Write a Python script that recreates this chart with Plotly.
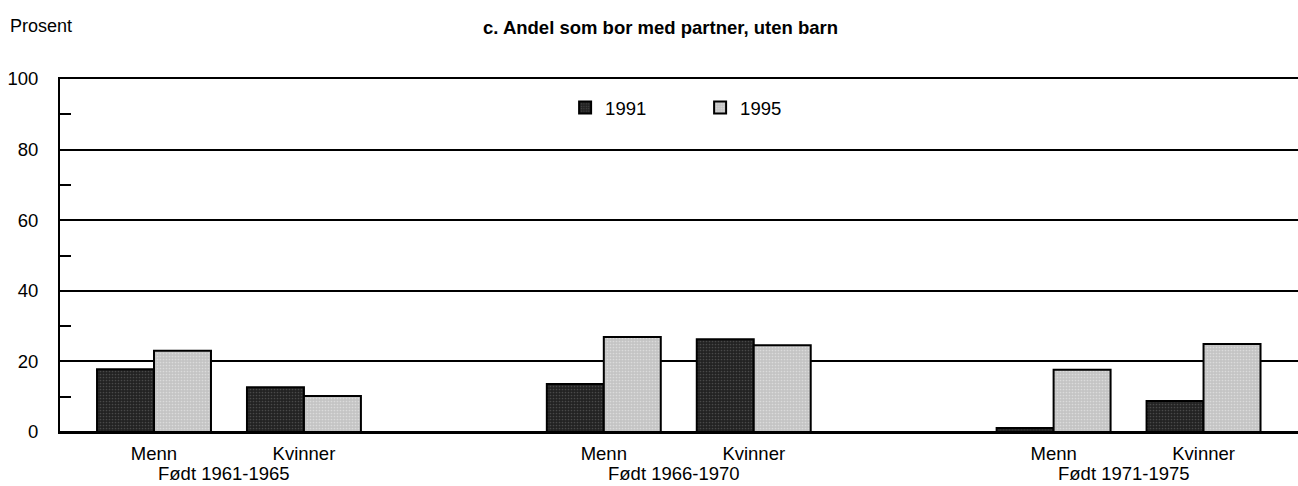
import plotly.graph_objects as go

# data
groups = ["Født 1961-1965", "Født 1966-1970", "Født 1971-1975"]
sexes = ["Menn", "Kvinner"]
years = ["1991", "1995"]
values_1991 = [17.8, 12.7, 13.6, 26.3, 1.1, 8.8]
values_1995 = [23.0, 10.2, 26.9, 24.6, 17.6, 24.9]

FONT = "Liberation Sans, Arial, sans-serif"
COLORS = {"1991": "#222222", "1995": "#c4c4c4"}

# positions: two bars per group, a blank slot between groups
xpos = []
xlabels = []
for g in range(len(groups)):
    for s, sex in enumerate(sexes):
        xpos.append(g * 3 + s)
        xlabels.append(sex)

fig = go.Figure()
for year, vals in zip(years, [values_1991, values_1995]):
    fig.add_trace(go.Bar(
        x=xpos, y=vals, name=year,
        marker=dict(color=COLORS[year], line=dict(color="black", width=2),
                    pattern=dict(shape=".", fgcolor="#707070" if year == "1991" else "#f2f2f2",
                                 size=3, solidity=0.25)),
    ))

for g, label in enumerate(groups):
    fig.add_annotation(x=g * 3 + 0.5, y=0, yref="y", xshift=-5, yshift=-41, text=label,
                       showarrow=False, font=dict(size=18.5, color="black", family=FONT))

fig.add_annotation(x=0, xref="paper", xshift=-52, y=1, yref="paper", yshift=65,
                   text="Prosent", showarrow=False, xanchor="left",
                   font=dict(size=18, color="black", family=FONT))
fig.add_annotation(x=0.485, xref="paper", y=1, yref="paper", yshift=64,
                   text="<b>c. Andel som bor med partner, uten barn</b>", showarrow=False,
                   font=dict(size=18.5, color="black", family=FONT))

fig.update_layout(
    width=1298, height=486,
    margin=dict(l=60, r=0, t=79, b=54),
    paper_bgcolor="white", plot_bgcolor="white",
    barmode="group", bargap=0.24, bargroupgap=0,
    font=dict(family=FONT, size=18.5, color="black"),
    showlegend=True,
    legend=dict(orientation="h", x=0.408, xanchor="left", y=0.918, yanchor="middle",
                entrywidth=90, font=dict(size=18.5), bgcolor="rgba(0,0,0,0)"),
)
fig.update_xaxes(range=[-0.627, 7.63], tickvals=xpos, ticktext=xlabels,
                 showgrid=False, zeroline=False,
                 showline=True, mirror=True, linecolor="black", linewidth=2,
                 ticks="", ticklabelstandoff=4, tickfont=dict(size=18.5))
fig.update_yaxes(range=[0, 100], dtick=20, showgrid=True, gridcolor="black", gridwidth=2,
                 zeroline=True, zerolinecolor="black", zerolinewidth=2,
                 showline=True, linecolor="black", linewidth=2,
                 ticks="", ticklabelstandoff=16, tickfont=dict(size=18.5),
                 minor=dict(dtick=10, ticks="inside", ticklen=11, tickcolor="black", tickwidth=2,
                            showgrid=False))

fig.write_html("out.html", config={"displayModeBar": False},
               post_script="document.body.style.margin='0';")
